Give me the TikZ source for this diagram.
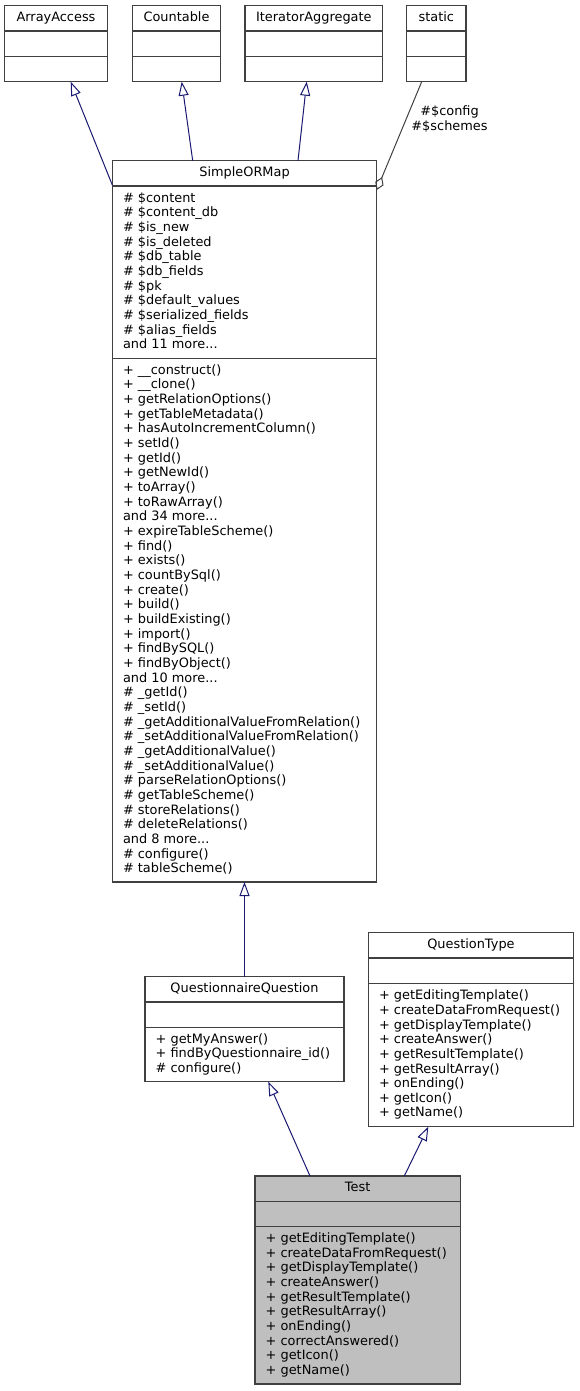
\documentclass[tikz,border=0pt]{standalone}
\usepackage{fontspec}
\setmainfont{DejaVu Sans}
\usetikzlibrary{arrows.meta,calc}
\definecolor{edgeblue}{HTML}{191970}
\definecolor{boxline}{HTML}{404040}
\definecolor{aggline}{HTML}{404040}
\definecolor{selfill}{HTML}{BFBFBF}
\newcommand\ls{\rule[-4pt]{0pt}{14.66pt}}
\newcommand\divs[3]{%
  \draw[divline] ($(#1.north west)+(0,#2)$) -- ($(#1.north east)+(0,#2)$);
  \draw[divline] ($(#1.north west)+(0,#3)$) -- ($(#1.north east)+(0,#3)$);}
\begin{document}
\begin{tikzpicture}[x=1pt,y=-1pt,
  font=\fontsize{12.9pt}{14.66pt}\selectfont,
  cls/.style={draw=boxline, line width=1.1pt, fill=white, inner sep=0pt, outer sep=0pt, anchor=north west, rectangle},
  sel/.style={cls, fill=selfill},
  divline/.style={draw=boxline, line width=1.1pt},
  ttl/.style={inner sep=0pt, anchor=center},
  mem/.style={inner sep=0pt, anchor=west, align=left},
  inh/.style={draw=edgeblue, line width=1pt, -{Triangle[open, length=14pt, width=10pt]}},
  agg/.style={draw=aggline, line width=1pt, -{Diamond[open, length=14pt, width=9pt]}},
  lbl/.style={inner sep=0pt, align=center},
]
\useasboundingbox (0,0) rectangle (579,1391);

% top row
\node[cls, minimum width=103.4pt, minimum height=76pt] (aa) at (4.3,5.7) {};
\node[cls, minimum width=88.4pt, minimum height=76pt] (cnt) at (132.3,5.7) {};
\node[cls, minimum width=137.7pt, minimum height=76pt] (itag) at (245,5.7) {};
\node[cls, minimum width=59.3pt, minimum height=76pt] (stat) at (406.7,5.7) {};
\divs{aa}{25.3}{50.6}
\divs{cnt}{25.3}{50.6}
\divs{itag}{25.3}{50.6}
\divs{stat}{25.3}{50.6}
\node[ttl] (aa-t) at ($(aa.north)+(0,12.65)$) {\ls ArrayAccess};
\node[ttl] (cnt-t) at ($(cnt.north)+(0,12.65)$) {\ls Countable};
\node[ttl] (itag-t) at ($(itag.north)+(0,12.65)$) {\ls IteratorAggregate};
\node[ttl] (stat-t) at ($(stat.north)+(0,12.65)$) {\ls static};

% SimpleORMap
\node[cls, minimum width=264.4pt, minimum height=721.3pt] (smap) at (112.3,160.7) {};
\divs{smap}{25.3}{197.6}
\node[ttl] (smap-t) at ($(smap.north)+(0,12.65)$) {\ls SimpleORMap};
\node[mem] (smap-a) at ($(smap.north west)+(10.5,111.45)$) {%
\ls\# \$content\\
\ls\# \$content\_db\\
\ls\# \$is\_new\\
\ls\# \$is\_deleted\\
\ls\# \$db\_table\\
\ls\# \$db\_fields\\
\ls\# \$pk\\
\ls\# \$default\_values\\
\ls\# \$serialized\_fields\\
\ls\# \$alias\_fields\\
\ls and 11 more...};
\node[mem] (smap-m) at ($(smap.north west)+(10.5,459.45)$) {%
\ls+ \_\_construct()\\
\ls+ \_\_clone()\\
\ls+ getRelationOptions()\\
\ls+ getTableMetadata()\\
\ls+ hasAutoIncrementColumn()\\
\ls+ setId()\\
\ls+ getId()\\
\ls+ getNewId()\\
\ls+ toArray()\\
\ls+ toRawArray()\\
\ls and 34 more...\\
\ls+ expireTableScheme()\\
\ls+ find()\\
\ls+ exists()\\
\ls+ countBySql()\\
\ls+ create()\\
\ls+ build()\\
\ls+ buildExisting()\\
\ls+ import()\\
\ls+ findBySQL()\\
\ls+ findByObject()\\
\ls and 10 more...\\
\ls\# \_getId()\\
\ls\# \_setId()\\
\ls\# \_getAdditionalValueFromRelation()\\
\ls\# \_setAdditionalValueFromRelation()\\
\ls\# \_getAdditionalValue()\\
\ls\# \_setAdditionalValue()\\
\ls\# parseRelationOptions()\\
\ls\# getTableScheme()\\
\ls\# storeRelations()\\
\ls\# deleteRelations()\\
\ls and 8 more...\\
\ls\# configure()\\
\ls\# tableScheme()};

% QuestionnaireQuestion
\node[cls, minimum width=199pt, minimum height=105pt] (qq) at (145,976.7) {};
\divs{qq}{25.3}{50.6}
\node[ttl] (qq-t) at ($(qq.north)+(0,12.65)$) {\ls QuestionnaireQuestion};
\node[mem] (qq-m) at ($(qq.north west)+(10.5,77.8)$) {%
\ls+ getMyAnswer()\\
\ls+ findByQuestionnaire\_id()\\
\ls\# configure()};

% QuestionType
\node[cls, minimum width=205.3pt, minimum height=194pt] (qt) at (368.3,932.7) {};
\divs{qt}{25.3}{50.6}
\node[ttl] (qt-t) at ($(qt.north)+(0,12.65)$) {\ls QuestionType};
\node[mem] (qt-m) at ($(qt.north west)+(10.5,122.3)$) {%
\ls+ getEditingTemplate()\\
\ls+ createDataFromRequest()\\
\ls+ getDisplayTemplate()\\
\ls+ createAnswer()\\
\ls+ getResultTemplate()\\
\ls+ getResultArray()\\
\ls+ onEnding()\\
\ls+ getIcon()\\
\ls+ getName()};

% Test
\node[sel, minimum width=205.3pt, minimum height=208pt] (test) at (255,1176) {};
\divs{test}{25.3}{50.6}
\node[ttl] (test-t) at ($(test.north)+(0,12.65)$) {\ls Test};
\node[mem] (test-m) at ($(test.north west)+(10.5,129.3)$) {%
\ls+ getEditingTemplate()\\
\ls+ createDataFromRequest()\\
\ls+ getDisplayTemplate()\\
\ls+ createAnswer()\\
\ls+ getResultTemplate()\\
\ls+ getResultArray()\\
\ls+ onEnding()\\
\ls+ correctAnswered()\\
\ls+ getIcon()\\
\ls+ getName()};

% edges
\draw[inh] ($(smap.north west)+(0,24.3)$) -- ($(aa.south)+(14.7,0)$);
\draw[inh] ($(smap.north west)+(80.4,0)$) -- ($(cnt.south)+(5.2,0)$);
\draw[inh] ($(smap.north west)+(185.7,0)$) -- ($(itag.south)+(-7.15,0)$);
\draw[agg] ($(stat.south)+(-14.65,0)$) -- ($(smap.north east)+(0,29.3)$);
\node[lbl] (stat-l) at (449.5,120) {\ls\#\$config\\ \ls\#\$schemes};
\draw[inh] (qq.north) -- (smap.south);
\draw[inh] ($(test.north west)+(55,0)$) -- ($(qq.south)+(23.8,0)$);
\draw[inh] ($(test.north west)+(149.3,0)$) -- ($(qt.south)+(-42.65,0)$);
\end{tikzpicture}
\end{document}
